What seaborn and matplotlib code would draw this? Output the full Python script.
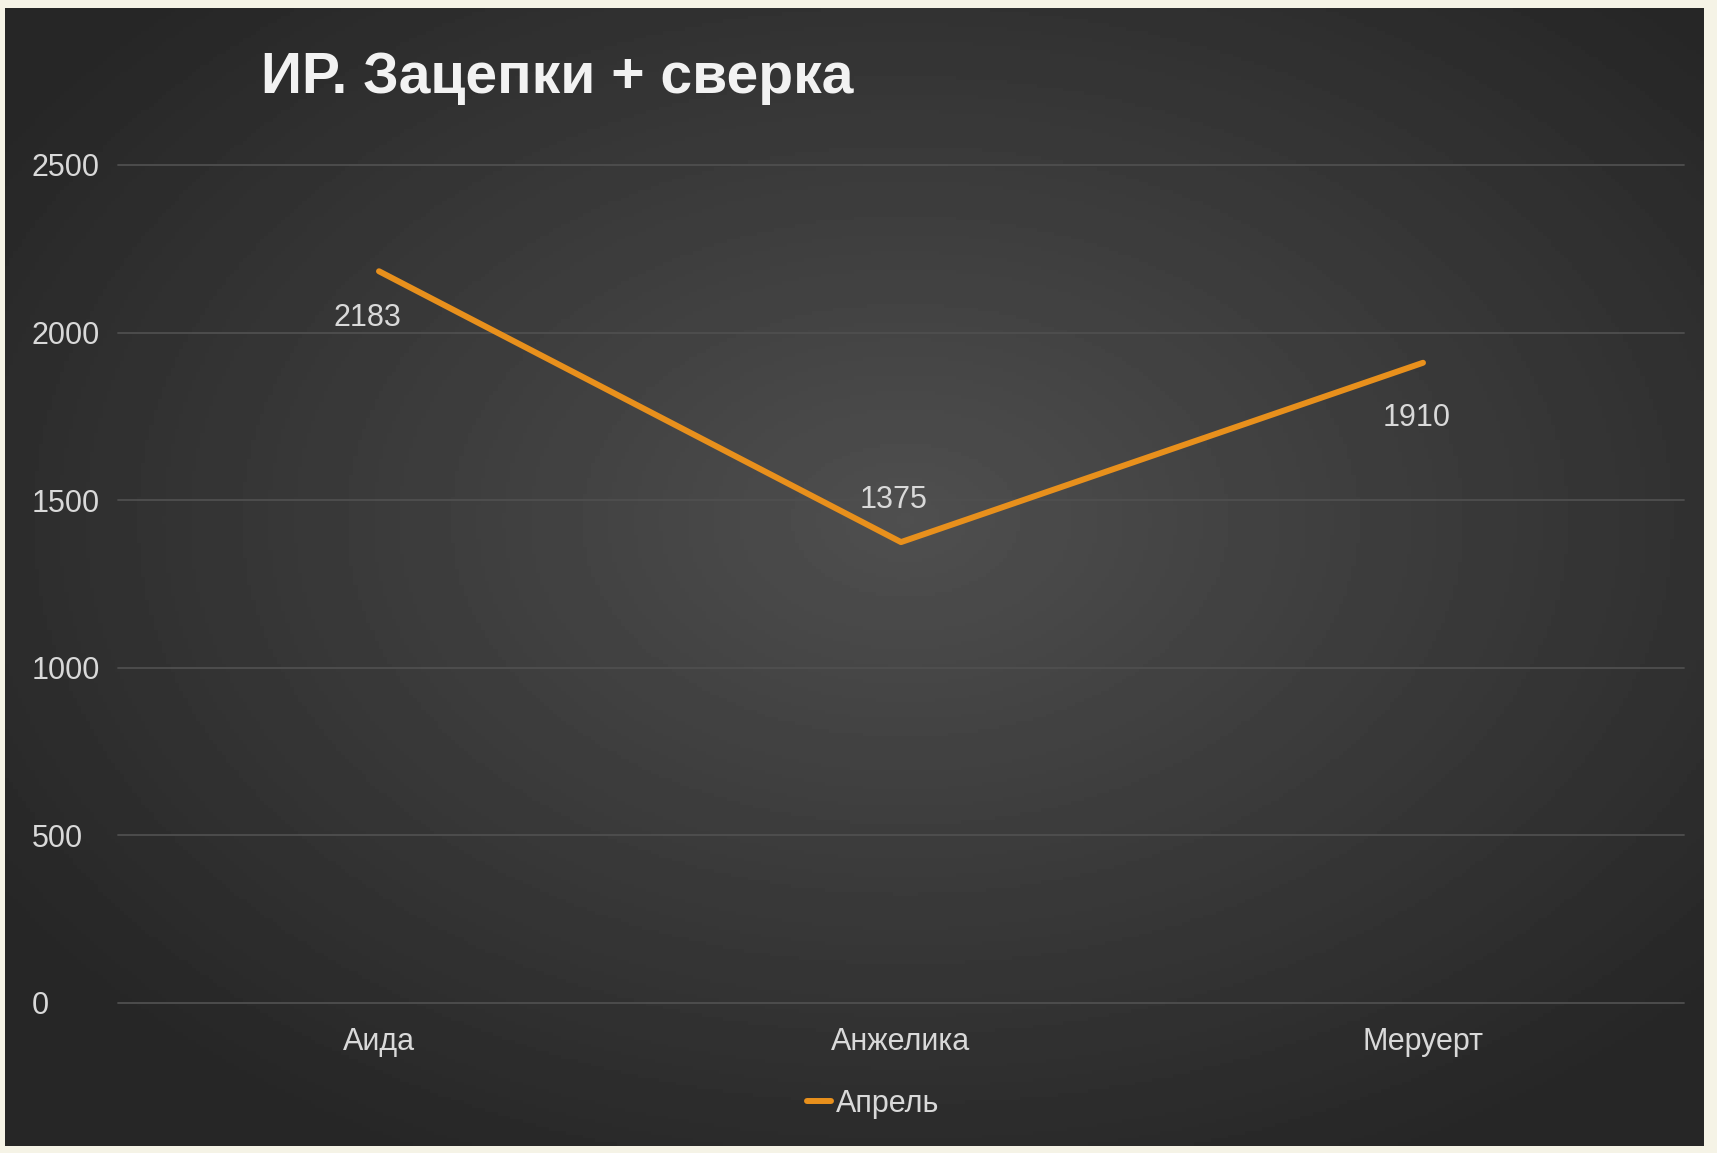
import numpy as np
import pandas as pd
import matplotlib
matplotlib.use("Agg")
import matplotlib.pyplot as plt
import seaborn as sns

# chart data
names = ["Аида", "Анжелика", "Меруерт"]
april = [2183, 1375, 1910]
y_ticks = [0, 500, 1000, 1500, 2000, 2500]
title = "ИР. Зацепки + сверка"
series_name = "Апрель"

W, H = 1717, 1153
line_color = "#e8901c"
text_color = "#d9d9d9"

sns.set_style("dark")
plt.rcParams["font.family"] = ["Liberation Sans", "DejaVu Sans"]

fig = plt.figure(figsize=(W / 100, H / 100), dpi=100, facecolor="#f5f3e6")

# dark panel with a soft radial gradient
px0, px1, py0, py1 = 5, 1703, 8, 1146
bg = fig.add_axes([px0 / W, 1 - py1 / H, (px1 - px0) / W, (py1 - py0) / H], zorder=0)
gx, gy = np.meshgrid(np.linspace(0, 1, 400), np.linspace(0, 1, 300))
dist = np.sqrt(((gx - 0.53) / 0.75) ** 2 + ((gy - 0.45) / 0.75) ** 2)
shade = np.clip(0.31 - 0.19 * dist, 0.15, 0.31)
bg.imshow(shade, cmap="gray", vmin=0, vmax=1, aspect="auto", extent=[0, 1, 1, 0])
bg.set_axis_off()

# main plot area
ax_l, ax_r, ax_t, ax_b = 118, 1684, 165, 1003
ax = fig.add_axes([ax_l / W, 1 - ax_b / H, (ax_r - ax_l) / W, (ax_b - ax_t) / H], zorder=1)
ax.set_facecolor("none")

df = pd.DataFrame({"name": names, "value": april})
sns.lineplot(data=df, x="name", y="value", ax=ax, sort=False, color=line_color,
             linewidth=4.3, label=series_name, zorder=3)

ax.set_xlim(-0.5, 2.5)
ax.set_ylim(0, 2500)
ax.set_yticks(y_ticks)
ax.set_yticklabels([str(t) for t in y_ticks], ha="left")
ax.tick_params(axis="y", length=0, pad=62, labelsize=22, labelcolor=text_color)
ax.tick_params(axis="x", length=0, pad=17, labelsize=22, labelcolor=text_color)
ax.set_xlabel("")
ax.set_ylabel("")
ax.grid(axis="y", color="#4f4f4f", linewidth=1.3)
ax.grid(axis="x", visible=False)
for s in ax.spines.values():
    s.set_visible(False)
for gl in ax.get_ygridlines():
    gl.set_clip_on(False)

# data labels
offsets = [(-12, -47), (-7, 42), (-6, -55)]
for i, (v, off) in enumerate(zip(april, offsets)):
    ax.annotate(str(v), (i, v), xytext=off, textcoords="offset pixels",
                ha="center", va="center", fontsize=22, color=text_color, zorder=4)

fig.text(261 / W, 1 - 78 / H, title, ha="left", va="center", fontsize=41,
         fontweight="bold", color="#f2f2f2")

ax.legend(loc="center", bbox_to_anchor=(873 / W, 1 - 1104 / H),
          bbox_transform=fig.transFigure, frameon=False, handlelength=0.8,
          handletextpad=0.15, fontsize=22, labelcolor=text_color)

fig.savefig("out.png", dpi=100, facecolor=fig.get_facecolor())
